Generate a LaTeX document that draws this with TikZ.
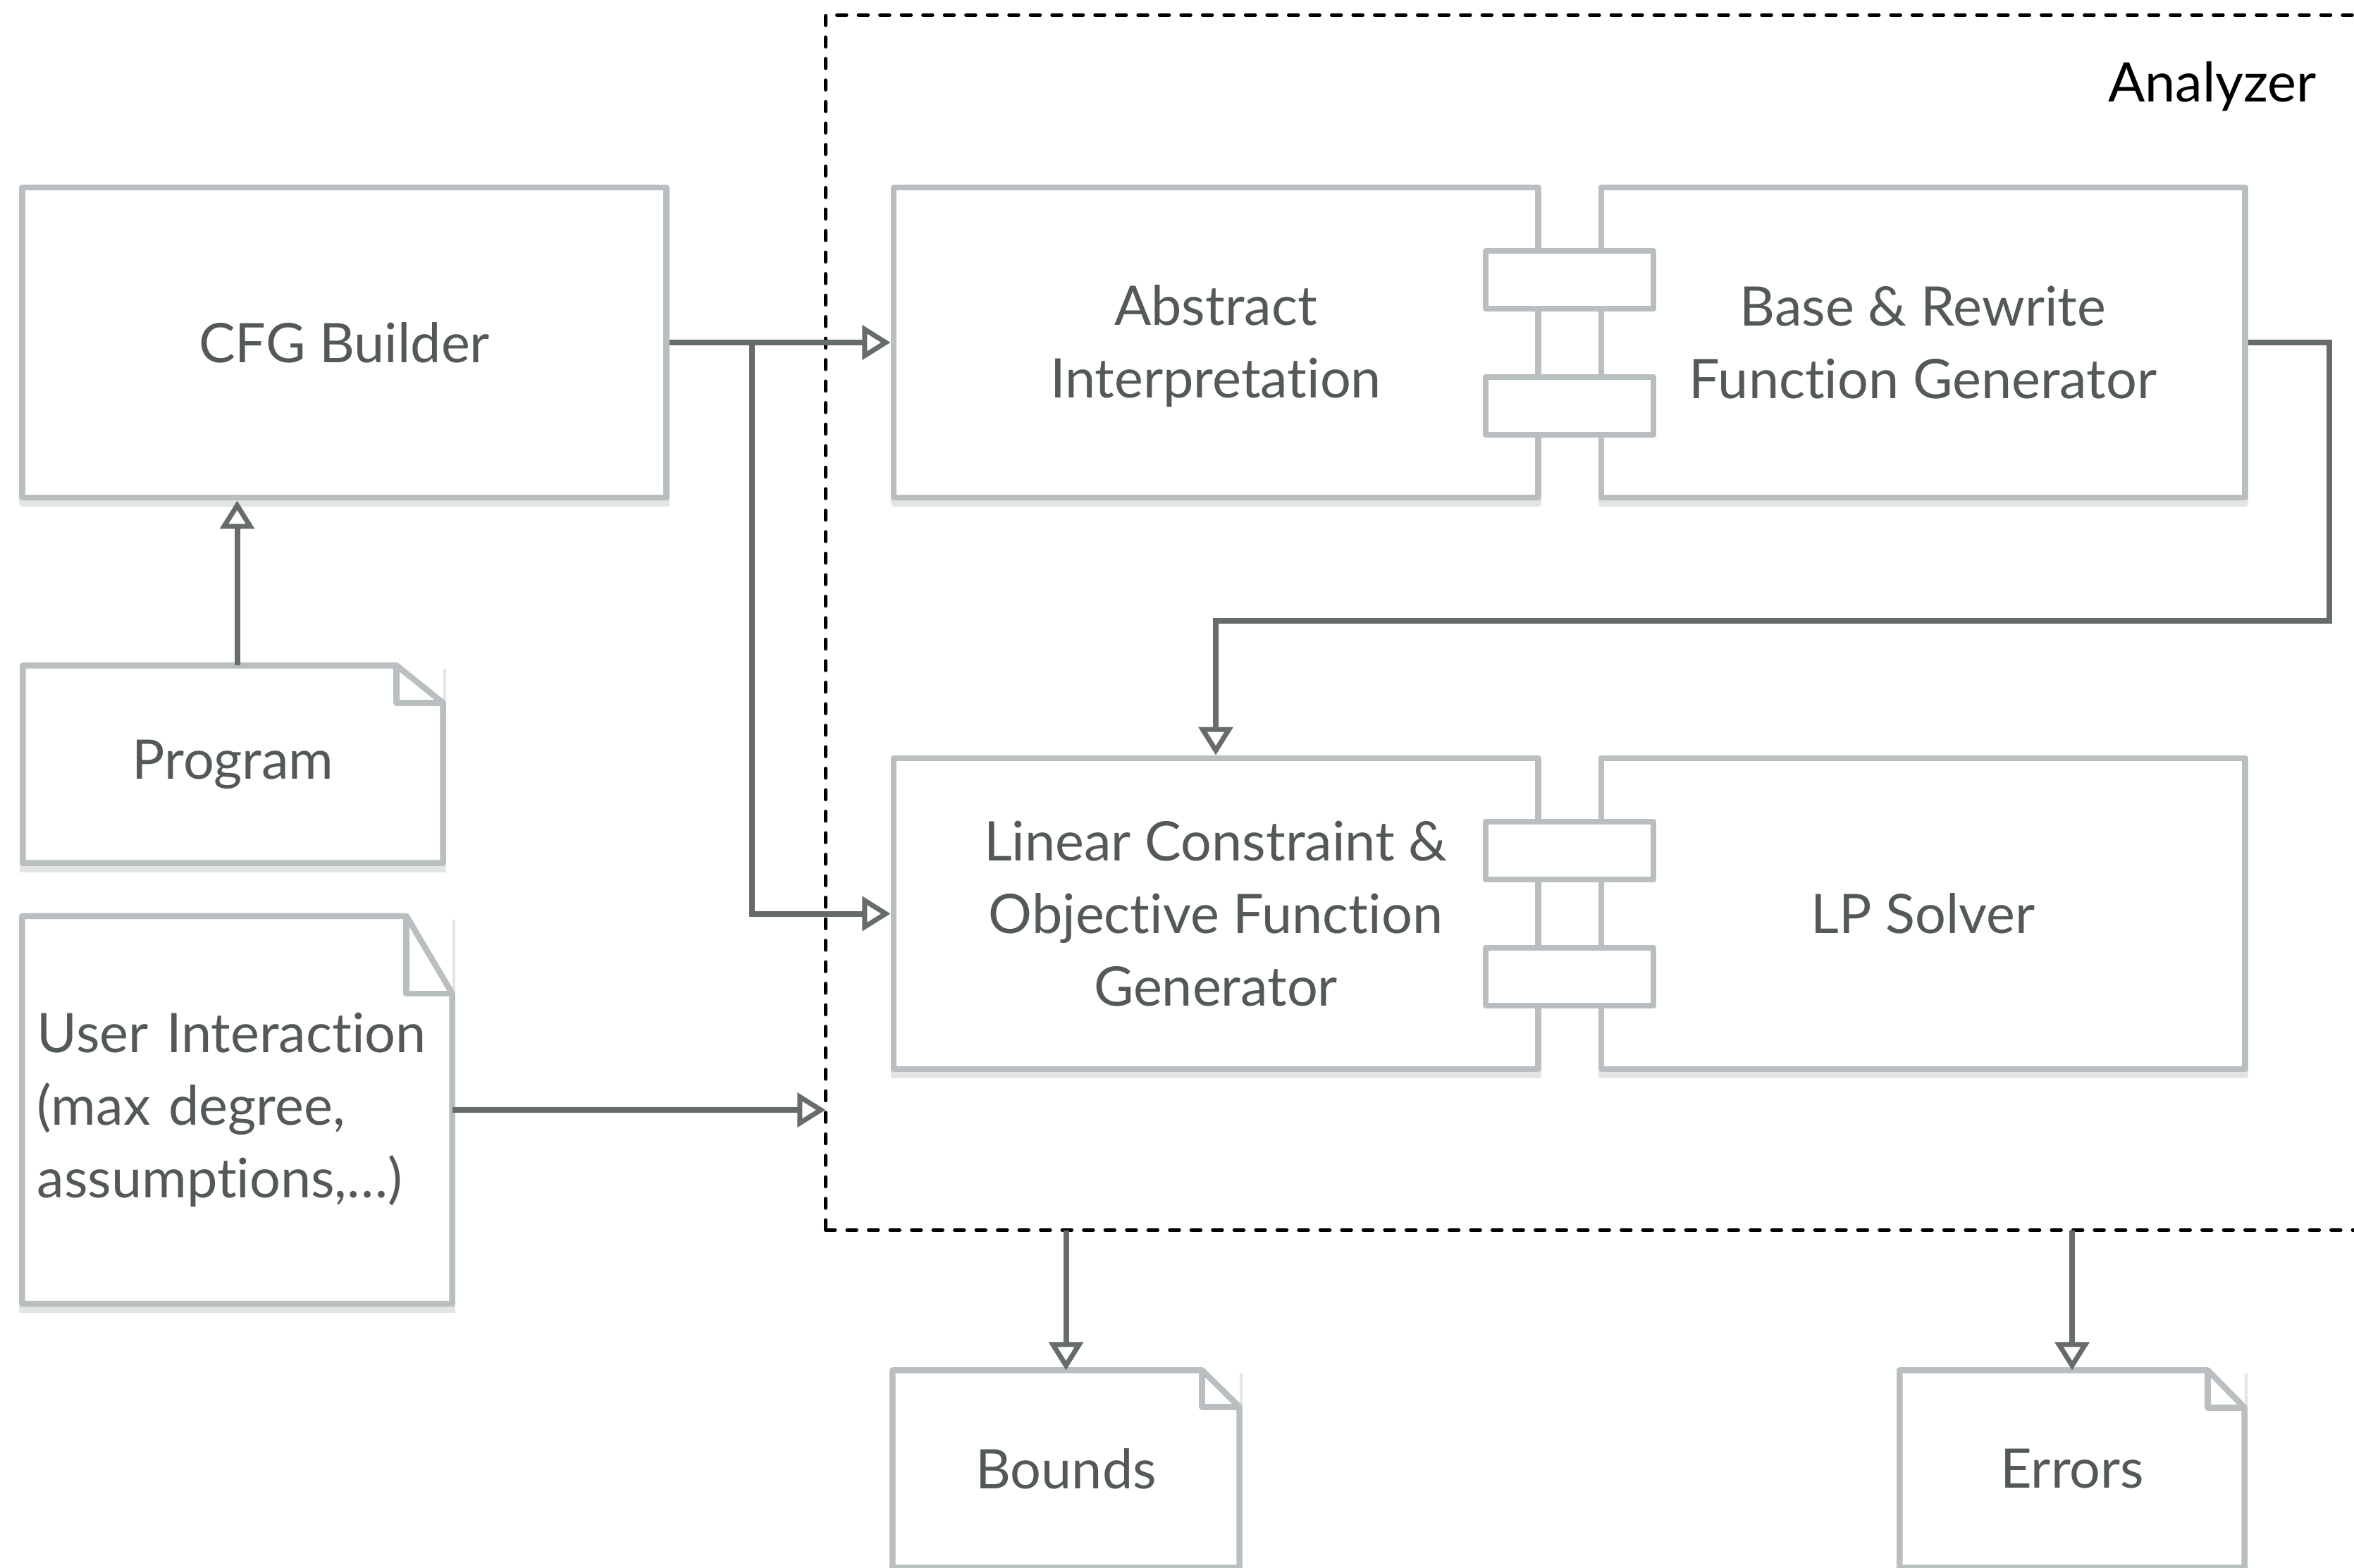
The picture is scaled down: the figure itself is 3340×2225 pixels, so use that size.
\documentclass[tikz,border=0pt]{standalone}
\usepackage{fontspec}
\setmainfont{Lato}[Ligatures=NoCommon]
\usetikzlibrary{arrows.meta,calc}

\definecolor{boxline}{HTML}{B9BFC1}
\definecolor{wirecol}{HTML}{666B6B}
\definecolor{ink}{HTML}{535959}
\definecolor{shade}{HTML}{E3E4E4}

% folded-corner outline of a document node: #1 node, #2 fold width, #3 fold height
\newcommand\docoutline[3]{%
  \draw[docline] (#1.north west) -- ($(#1.north east)+(-#2,0)$)
    -- ($(#1.north east)+(0,#3)$) -- (#1.south east) -- (#1.south west) -- cycle;
  \draw[docline] ($(#1.north east)+(-#2,0)$) -- ($(#1.north east)+(-#2,#3)$)
    -- ($(#1.north east)+(0,#3)$);
}

\begin{document}
\begin{tikzpicture}[x=0.01cm,y=-0.01cm,
  every node/.style={inner sep=0pt, font=\fontsize{22}{29.3}\selectfont, text=ink},
  block/.style={draw=boxline, line width=0.085cm, fill=white, align=center,
    line join=round,
    preaction={draw=shade, fill=shade, line width=0.085cm,
      transform canvas={yshift=-0.09cm}}},
  port/.style={draw=boxline, line width=0.085cm, fill=white, line join=round,
    minimum width=2.38cm, minimum height=0.82cm},
  doc/.style={fill=white, outer sep=0pt,
    preaction={draw=shade, fill=shade, line width=0.085cm,
      transform canvas={yshift=-0.09cm}}},
  docline/.style={draw=boxline, line width=0.085cm, line join=round},
  flow/.style={draw=wirecol, line width=0.08cm,
    -{Triangle[length=0.40cm, width=0.48cm, fill=white, line width=0.07cm]}},
  group/.style={draw=black, line width=0.05cm, line cap=round,
    dash pattern=on 0.135cm off 0.17cm, outer sep=0pt}
]
\useasboundingbox (0,0) rectangle (3340,2225);
\clip (0,0) rectangle (3340,2225);

% analyzer frame
\node[group, minimum width=21.88cm, minimum height=17.23cm] (analyzer) at (2266,883.5) {};
\node[anchor=base east, text=black] (anlabel) at (3287,145) {Analyzer};

% components
\node[block, minimum width=9.13cm, minimum height=4.40cm] (cfg) at (488.5,486) {CFG Builder};
\node[block, minimum width=9.14cm, minimum height=4.40cm] (ai) at (1725,486)
  {\rule{0pt}{0.68cm}Abstract\\Interpretation};
\node[block, minimum width=9.13cm, minimum height=4.40cm] (br) at (2728.5,486) {Base \& Rewrite\\Function Generator};
\node[block, minimum width=9.14cm, minimum height=4.41cm] (lc) at (1725,1296.5) {Linear Constraint \&\\Objective Function\\Generator};
\node[block, minimum width=9.13cm, minimum height=4.41cm] (lp) at (2728.5,1296.5) {LP Solver};

% interface ports between component pairs
\node[port] (p1) at (2227,397) {};
\node[port] (p2) at (2227,576) {};
\node[port] (p3) at (2227,1207) {};
\node[port] (p4) at (2227,1386) {};

% documents
\node[doc, minimum width=5.96cm, minimum height=2.80cm] (prog) at (330.5,1084.5) {Program};
\docoutline{prog}{66}{53}
\node[doc, minimum height=5.50cm, text width=5.67cm, inner xsep=0.215cm, align=left] (ui) at (336.5,1575)
  {User Interaction\\(max degree,\\assumptions,…)};
\docoutline{ui}{65}{110}
\node[doc, minimum width=4.92cm, minimum height=2.80cm] (bounds) at (1512.5,2084.5) {Bounds};
\docoutline{bounds}{53}{52}
\node[doc, minimum width=4.89cm, minimum height=2.80cm] (errors) at (2940,2084.5) {Errors};
\docoutline{errors}{52}{53}

% connectors
\coordinate (split) at (1067,486);
\coordinate (turn) at (3305,881);
\draw[flow] ($(prog.north)+(6,0)$) -- ($(prog.north |- cfg.south)+(6,0)$);
\draw[flow] (cfg.east) -- (ai.west);
\draw[flow] (split) |- (lc.west);
\draw[flow] (br.east) -| (turn) -| (lc.north);
\draw[flow] (ui.east) -- (ui.east -| analyzer.west);
\draw[flow] (bounds.north |- analyzer.south) -- (bounds.north);
\draw[flow] (errors.north |- analyzer.south) -- (errors.north);
\end{tikzpicture}
\end{document}
